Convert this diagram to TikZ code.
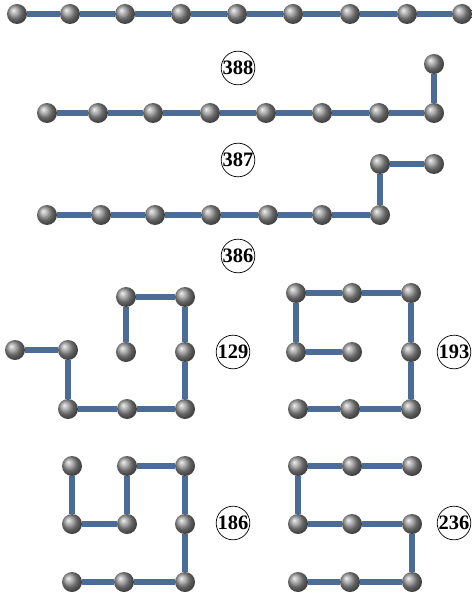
\documentclass[tikz,border=0pt]{standalone}
\usepackage{fontspec}
\setmainfont{Liberation Serif}
\definecolor{bondblue}{RGB}{74,108,150}
\begin{document}
\begin{tikzpicture}[x=0.03cm, y=-0.03cm,
    bead/.style={circle, shading=ball, ball color=gray!85, minimum size=0.6cm, inner sep=0pt, outer sep=0pt},
    bond/.style={draw=bondblue, line width=4.6pt},
    tag/.style={circle, draw, line width=0.6pt, minimum size=1cm, inner sep=0pt, font=\fontsize{17.5}{17.5}\selectfont\bfseries}]
    \useasboundingbox (0,0) rectangle (471,597);

    % straight chain 388
    \foreach \x [count=\i] in {17,70,125,181,237,293,350,407,462}
        \node[bead] (a\i) at (\x,14) {};
    \foreach \i [count=\j from 2] in {1,...,8}
        \draw[bond] (a\i) -- (a\j);
    \node[tag] (l388) at (238,68) {388};

    % chain 387, one bend at the end
    \foreach \x/\y [count=\i] in {434/64, 434/113, 379/113, 322/113, 266/113, 210/113, 153/113, 98/113, 47/113}
        \node[bead] (b\i) at (\x,\y) {};
    \foreach \i [count=\j from 2] in {1,...,8}
        \draw[bond] (b\i) -- (b\j);
    \node[tag] (l387) at (238,160) {387};

    % chain 386, two bends
    \foreach \x/\y [count=\i] in {434/164, 380/164, 380/215, 322/215, 268/215, 211/215, 155/215, 101/215, 47/215}
        \node[bead] (c\i) at (\x,\y) {};
    \foreach \i [count=\j from 2] in {1,...,8}
        \draw[bond] (c\i) -- (c\j);
    \node[tag] (l386) at (238,256) {386};

    % compact 129
    \foreach \x/\y [count=\i] in {15/350, 68/350, 68/409, 127/409, 185/409, 185/352, 185/297, 126/297, 126/352}
        \node[bead] (d\i) at (\x,\y) {};
    \foreach \i [count=\j from 2] in {1,...,8}
        \draw[bond] (d\i) -- (d\j);
    \node[tag] (l129) at (233,352) {129};

    % compact 193
    \foreach \x/\y [count=\i] in {352/352, 296/352, 296/293, 352/293, 411/293, 411/352, 411/409, 350/409, 298/409}
        \node[bead] (e\i) at (\x,\y) {};
    \foreach \i [count=\j from 2] in {1,...,8}
        \draw[bond] (e\i) -- (e\j);
    \node[tag] (l193) at (454,352) {193};

    % compact 186
    \foreach \x/\y [count=\i] in {72/466, 72/524, 127/524, 127/466, 185/466, 185/524, 185/582, 124/582, 72/582}
        \node[bead] (f\i) at (\x,\y) {};
    \foreach \i [count=\j from 2] in {1,...,8}
        \draw[bond] (f\i) -- (f\j);
    \node[tag] (l186) at (233,523) {186};

    % compact 236
    \foreach \x/\y [count=\i] in {412/466, 352/466, 298/466, 298/524, 352/524, 412/524, 412/582, 350/582, 298/582}
        \node[bead] (g\i) at (\x,\y) {};
    \foreach \i [count=\j from 2] in {1,...,8}
        \draw[bond] (g\i) -- (g\j);
    \node[tag] (l236) at (454,523) {236};
\end{tikzpicture}
\end{document}
